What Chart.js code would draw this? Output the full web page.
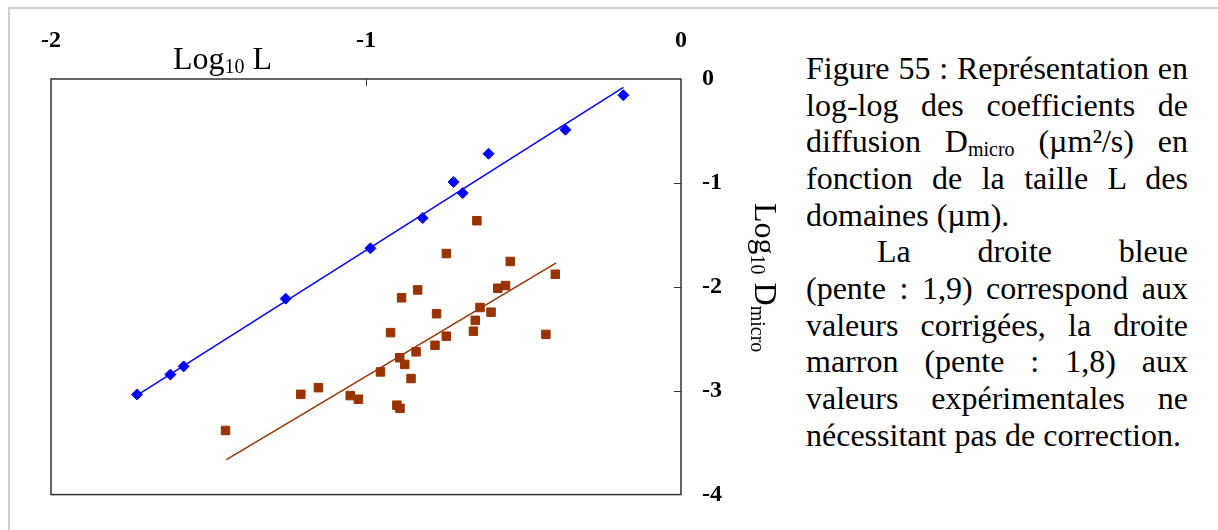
<!DOCTYPE html>
<html>
<head>
<meta charset="utf-8">
<script src="https://cdn.jsdelivr.net/npm/chart.js@4"></script>
<style>
  html, body { margin: 0; padding: 0; background: #fff; overflow: hidden; }
  body { width: 1218px; height: 530px; position: relative; font-family: 'Liberation Serif', serif; color: #000; }
  #frame { position: absolute; left: 8px; top: 7px; width: 1400px; height: 700px;
           border-top: 2px solid #cfcfcf; border-left: 2px solid #cfcfcf; }
  #chartBox { position: absolute; left: 0; top: 0; width: 790px; height: 530px; }
  .title { position: absolute; font-size: 32px; line-height: 32px; white-space: nowrap; }
  .title sub, #desc sub { font-size: 20px; line-height: 0; vertical-align: -4px; }
  #xTitle { left: 173px; top: 42px; }
  #yTitle { left: 782px; top: 203px; transform: rotate(90deg); transform-origin: 0 0; }
  #desc { position: absolute; left: 806px; top: 50px; width: 382px; font-size: 32px; line-height: 36.67px; }
  #desc div { white-space: nowrap; height: 36.67px; }
  #desc .j { text-align: justify; text-align-last: justify; white-space: normal; }
  #desc .ind { padding-left: 71px; }
</style>
</head>
<body>
<div id="frame"></div>
<div id="chartBox"><canvas id="chart" width="790" height="530"></canvas></div>
<div class="title" id="xTitle">Log<sub>10</sub> L</div>
<div class="title" id="yTitle">Log<sub>10</sub> D<sub>micro</sub></div>
<div id="desc">
  <div class="j">Figure 55 : Représentation en</div>
  <div class="j">log-log des coefficients de</div>
  <div class="j">diffusion D<sub>micro</sub> (µm²/s) en</div>
  <div class="j">fonction de la taille L des</div>
  <div>domaines (µm).</div>
  <div class="j ind">La droite bleue</div>
  <div class="j">(pente : 1,9) correspond aux</div>
  <div class="j">valeurs corrigées, la droite</div>
  <div class="j">marron (pente : 1,8) aux</div>
  <div class="j">valeurs expérimentales ne</div>
  <div>nécessitant pas de correction.</div>
</div>
<script>
// axes
const xTicks = [-2, -1, 0];
const yTicks = [0, -1, -2, -3, -4];

// valeurs corrigées (losanges bleus)
const blueX = [-1.727, -1.621, -1.579, -1.255, -0.986, -0.820, -0.722, -0.693, -0.611, -0.367, -0.183];
const blueY = [-3.037, -2.845, -2.766, -2.114, -1.630, -1.338, -0.991, -1.098, -0.719, -0.488, -0.156];
const blueFitX = [-1.726, -0.183];
const blueFitY = [-3.043, -0.080];

// valeurs expérimentales (carrés marron)
const brownX = [-1.446, -1.207, -1.151, -1.050, -1.024, -0.954, -0.922, -0.902, -0.892, -0.893,
                -0.887, -0.877, -0.857, -0.841, -0.836, -0.781, -0.776, -0.745, -0.745, -0.659,
                -0.653, -0.648, -0.638, -0.603, -0.582, -0.557, -0.542, -0.429, -0.399];
const brownY = [-3.383, -3.035, -2.971, -3.047, -3.082, -2.819, -2.441, -3.139, -3.170, -2.683,
                -2.106, -2.747, -2.883, -2.626, -2.030, -2.563, -2.259, -1.680, -2.475, -2.427,
                -2.323, -1.364, -2.199, -2.244, -2.014, -1.988, -1.756, -2.458, -1.879];
const brownFitX = [-1.443, -0.396];
const brownFitY = [-3.664, -1.769];

const BLUE = '#0000ff';
const BROWN = '#993300';

const pts = (xs, ys) => xs.map((x, i) => ({ x: x, y: ys[i] }));

// cadre + graduations vers l'intérieur
const framePlugin = {
    id: 'frame',
    beforeDatasetsDraw(chart) {
        const a = chart.chartArea;
        const ctx = chart.ctx;
        const xs = chart.scales.x;
        const ys = chart.scales.y;
        ctx.save();
        ctx.strokeStyle = '#333';
        ctx.lineWidth = 1.5;
        ctx.strokeRect(a.left, a.top, a.right - a.left, a.bottom - a.top);
        ctx.lineWidth = 1;
        ctx.beginPath();
        xTicks.forEach(v => {
            if (v === xs.min || v === xs.max) return;
            const px = Math.round(xs.getPixelForValue(v)) + 0.5;
            ctx.moveTo(px, a.top);
            ctx.lineTo(px, a.top + 7);
        });
        yTicks.forEach(v => {
            if (v === ys.min || v === ys.max) return;
            const py = Math.round(ys.getPixelForValue(v)) + 0.5;
            ctx.moveTo(a.right - 7, py);
            ctx.lineTo(a.right, py);
        });
        ctx.stroke();
        ctx.restore();
    }
};

Chart.defaults.font.family = "'Liberation Serif', 'Times New Roman', serif";
const tickFont = { family: "'Liberation Serif', 'Times New Roman', serif", size: 24, weight: 'bold' };

new Chart(document.getElementById('chart'), {
    type: 'scatter',
    data: {
        datasets: [
            {
                label: 'droite bleue',
                data: pts(blueFitX, blueFitY),
                showLine: true,
                borderColor: BLUE,
                borderWidth: 1.5,
                pointRadius: 0
            },
            {
                label: 'droite marron',
                data: pts(brownFitX, brownFitY),
                showLine: true,
                borderColor: BROWN,
                borderWidth: 1.5,
                pointRadius: 0
            },
            {
                label: 'valeurs corrigées',
                data: pts(blueX, blueY),
                pointStyle: 'rectRot',
                pointRadius: 5.5,
                borderWidth: 1,
                borderColor: BLUE,
                backgroundColor: BLUE
            },
            {
                label: 'valeurs expérimentales',
                data: pts(brownX, brownY),
                pointStyle: 'rect',
                pointRadius: 6,
                borderWidth: 1,
                borderColor: BROWN,
                backgroundColor: BROWN
            }
        ]
    },
    options: {
        responsive: false,
        animation: false,
        devicePixelRatio: 1,
        layout: { padding: { left: 51, top: 0, right: 0, bottom: 29 } },
        scales: {
            x: {
                type: 'linear',
                position: 'top',
                min: -2,
                max: 0,
                afterBuildTicks: s => { s.ticks = xTicks.map(v => ({ value: v })); },
                afterFit: s => { s.height = 79; },
                grid: { display: false, drawTicks: false },
                border: { display: false },
                ticks: { padding: 24, color: '#000', font: tickFont, maxRotation: 0 }
            },
            y: {
                type: 'linear',
                position: 'right',
                min: -4,
                max: 0,
                afterBuildTicks: s => { s.ticks = yTicks.map(v => ({ value: v })); },
                afterFit: s => { s.width = 109; },
                grid: { display: false, drawTicks: false },
                border: { display: false },
                ticks: { padding: 21, color: '#000', font: tickFont }
            }
        },
        plugins: {
            legend: { display: false },
            tooltip: { enabled: false }
        }
    },
    plugins: [framePlugin]
});
</script>
</body>
</html>
